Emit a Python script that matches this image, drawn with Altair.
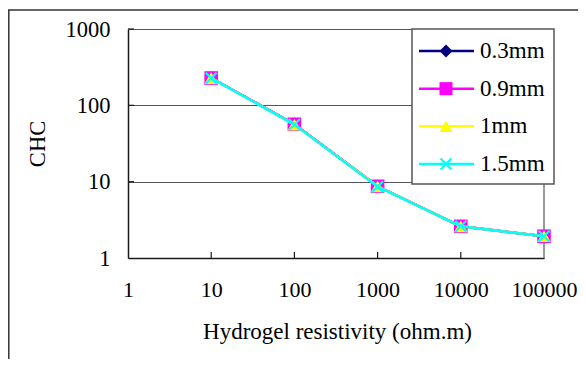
import altair as alt
import pandas as pd

# ---- data ----
resistivity = [10, 100, 1000, 10000, 100000]
series = ["0.3mm", "0.9mm", "1mm", "1.5mm"]
chc_03 = [228, 56.5, 8.7, 2.6, 1.93]
chc_09 = [228, 56.5, 8.7, 2.6, 1.93]
chc_1 = [227, 56.0, 8.7, 2.6, 1.93]
chc_15 = [227, 56.0, 8.6, 2.6, 1.93]
x_tick_values = [1, 10, 100, 1000, 10000, 100000]
y_tick_values = [1, 10, 100, 1000]
x_inner_ticks = [10, 100, 1000, 10000]
y_inner_ticks = [10, 100, 1000]

colors = ["#000080", "#FF00FF", "#FFFF00", "#00FFFF"]
shapes = ["diamond", "square", "triangle-up", "M-1,-1L1,1M-1,1L1,-1"]

FONT = "Liberation Serif"
W, H = 416, 229
PL, PT = 120, 21

rows = []
for s, vals in zip(series, [chc_03, chc_09, chc_1, chc_15]):
    for r, v in zip(resistivity, vals):
        rows.append({"series": s, "resistivity": r, "chc": v})
df = pd.DataFrame(rows)
leg_df = pd.DataFrame({"series": series})
xt_df = pd.DataFrame({"resistivity": x_inner_ticks})
yt_df = pd.DataFrame({"chc": y_inner_ticks})
dummy = pd.DataFrame({"a": [0]})

xs = alt.Scale(type="log", domain=[1, 100000], nice=False)
ys = alt.Scale(type="log", domain=[1, 1000], nice=False)

x_axis = alt.Axis(values=x_tick_values, format="d", grid=False, ticks=False,
                  labelPadding=21, labelFontSize=22, labelFont=FONT, labelColor="black",
                  labelFlush=False, labelOverlap=False, labelBaseline="top",
                  domainColor="#1a1a1a", domainWidth=1.5,
                  title="Hydrogel resistivity (ohm.m)", titleFont=FONT, titleFontSize=23,
                  titleFontWeight="normal", titleColor="black", titleX=W / 2 + 1, titleY=80,
                  titleAlign="center", titleBaseline="alphabetic")
y_axis = alt.Axis(values=y_tick_values, format="d", grid=True, gridColor="#555555",
                  gridWidth=1, ticks=False, labelPadding=18, labelFontSize=22.5,
                  labelFont=FONT, labelColor="black", labelFlush=False, labelOverlap=False,
                  domainColor="#1a1a1a", domainWidth=1.5,
                  title="CHC", titleFont=FONT, titleFontSize=22.5, titleFontWeight="normal",
                  titleColor="black", titleAngle=270, titleX=-91, titleY=H / 2,
                  titleAlign="center", titleBaseline="middle")


def X(field):
    return alt.X(f"{field}:Q", scale=xs, axis=x_axis)


def Y(field):
    return alt.Y(f"{field}:Q", scale=ys, axis=y_axis)


main_layers = []
# inward ticks
main_layers.append(
    alt.Chart(xt_df).mark_rule(color="#1a1a1a", strokeWidth=1.2).encode(
        x=X("resistivity"), y=alt.value(H), y2=alt.value(H - 6)))
main_layers.append(
    alt.Chart(yt_df).mark_rule(color="#1a1a1a", strokeWidth=1.2).encode(
        y=Y("chc"), x=alt.value(0), x2=alt.value(6)))
# right border of plot area
main_layers.append(
    alt.Chart(dummy).mark_rule(color="#999999", strokeWidth=2).encode(
        x=alt.value(W), y=alt.value(0), y2=alt.value(H)))

for s, c, sh in zip(series, colors, shapes):
    sub = alt.Chart(df).transform_filter(alt.datum.series == s)
    main_layers.append(sub.mark_line(color=c, strokeWidth=2.5).encode(
        x=X("resistivity"), y=Y("chc")))
    if sh.startswith("M"):
        pt = sub.mark_point(shape=sh, filled=False, stroke=c, strokeWidth=2.2,
                            size=120, opacity=1)
    else:
        pt = sub.mark_point(shape=sh, filled=True, color=c, size=185, opacity=1)
    main_layers.append(pt.encode(x=X("resistivity"), y=Y("chc")))

main = alt.layer(*main_layers)

# ---- legend ----
leg_y = alt.Scale(type="point", domain=series, range=[22, 135], padding=0)
LY = alt.Y("series:N", scale=leg_y, axis=None)
leg_layers = [
    alt.Chart(dummy).mark_rect(fill="white", stroke="#555555", strokeWidth=1.5).encode(
        x=alt.value(284), x2=alt.value(426), y=alt.value(0), y2=alt.value(155))
]
for s, c, sh in zip(series, colors, shapes):
    sub = alt.Chart(leg_df).transform_filter(alt.datum.series == s)
    leg_layers.append(sub.mark_rule(color=c, strokeWidth=2.5).encode(
        x=alt.value(291), x2=alt.value(346), y=LY))
    if sh.startswith("M"):
        pt = sub.mark_point(shape=sh, filled=False, stroke=c, strokeWidth=2.2,
                            size=120, opacity=1)
    else:
        pt = sub.mark_point(shape=sh, filled=True, color=c, size=170, opacity=1)
    leg_layers.append(pt.encode(x=alt.value(318), y=LY))
leg_layers.append(
    alt.Chart(leg_df).mark_text(align="left", baseline="middle", font=FONT,
                                fontSize=23, color="black").encode(
        x=alt.value(352), y=LY, text="series:N"))
legend = alt.layer(*leg_layers)

# ---- outer chart border (left and top edges visible) ----
border = alt.layer(
    alt.Chart(dummy).mark_rule(color="#333333", strokeWidth=1.5).encode(
        x=alt.value(-PL + 0.8), y=alt.value(-19), y2=alt.value(340)),
    alt.Chart(dummy).mark_rule(color="#333333", strokeWidth=1.5).encode(
        y=alt.value(-19), x=alt.value(-PL), x2=alt.value(460)),
)

chart = alt.layer(main, legend, border).resolve_scale(y="independent").properties(
    width=W, height=H,
    autosize=alt.AutoSizeParams(type="none"),
    padding={"left": PL, "top": PT, "right": 34, "bottom": 101},
).configure_view(strokeWidth=0)

chart.save("out.html", embed_options={"renderer": "svg", "actions": False})
